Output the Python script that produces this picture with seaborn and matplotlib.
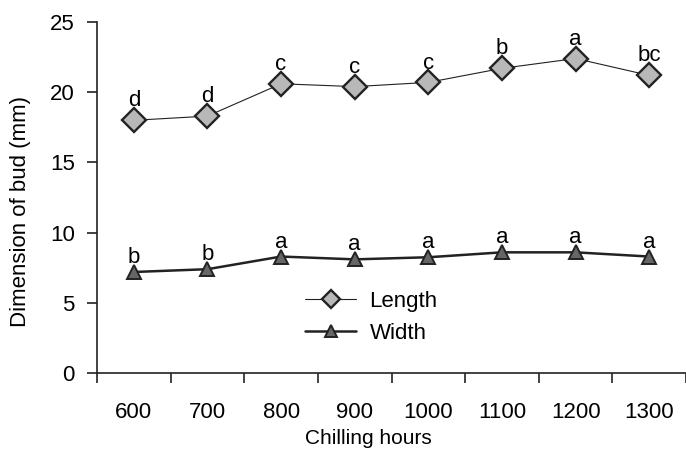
import numpy as np
import pandas as pd
import matplotlib
matplotlib.use('Agg')
import matplotlib.pyplot as plt
import seaborn as sns

hours = ['600', '700', '800', '900', '1000', '1100', '1200', '1300']
length = [18.0, 18.3, 20.6, 20.4, 20.7, 21.7, 22.4, 21.2]
width = [7.2, 7.4, 8.3, 8.1, 8.25, 8.6, 8.6, 8.3]
length_sig = ['d', 'd', 'c', 'c', 'c', 'b', 'a', 'bc']
width_sig = ['b', 'b', 'a', 'a', 'a', 'a', 'a', 'a']

sns.set_style('ticks')
plt.rcParams['font.family'] = ['Liberation Sans', 'DejaVu Sans']
plt.rcParams['text.color'] = 'black'
plt.rcParams['axes.labelcolor'] = 'black'
plt.rcParams['xtick.color'] = 'black'
plt.rcParams['ytick.color'] = 'black'

df = pd.DataFrame({'hours': hours, 'Length': length, 'Width': width})

fig = plt.figure(figsize=(6.86, 4.49), dpi=100)
ax = fig.add_axes([0.1414, 0.169, 0.8586, 0.782])

sns.lineplot(data=df, x='hours', y='Length', ax=ax, color='#222222', linewidth=0.8,
             marker='D', markersize=12.5, markerfacecolor='#b8b8b8',
             markeredgecolor='#222222', markeredgewidth=1.7, label='Length')
sns.lineplot(data=df, x='hours', y='Width', ax=ax, color='#222222', linewidth=1.8,
             marker='^', markersize=9.5, markerfacecolor='#666666',
             markeredgecolor='#222222', markeredgewidth=1.4, label='Width')

for i, (v, s) in enumerate(zip(length, length_sig)):
    ax.annotate(s, (i, v), xytext=(0, 10), textcoords='offset points',
                ha='center', va='baseline', fontsize=16)
for i, (v, s) in enumerate(zip(width, width_sig)):
    ax.annotate(s, (i, v), xytext=(0, 6.5), textcoords='offset points',
                ha='center', va='baseline', fontsize=16)

ax.set_xlim(-0.5, 7.5)
ax.set_ylim(0, 25)
ax.set_yticks([0, 5, 10, 15, 20, 25])
ax.set_xticks(np.arange(-0.5, 8, 1), minor=True)
ax.tick_params(axis='x', which='major', length=0, labelsize=16, pad=21)
ax.tick_params(axis='x', which='minor', length=7, width=1.2, color='#222222')
ax.tick_params(axis='y', length=7, width=1.2, color='#222222', labelsize=16, pad=9)
for sp in ['left', 'bottom']:
    ax.spines[sp].set_linewidth(1.2)
    ax.spines[sp].set_color('#222222')
sns.despine(ax=ax)

ax.set_xlabel('Chilling hours', fontsize=15)
ax.xaxis.set_label_coords(0.46, -0.16)
ax.set_ylabel('Dimension of bud (mm)', fontsize=16)
ax.yaxis.set_label_coords(-0.112, 0.46)

leg = ax.legend(loc='center left', bbox_to_anchor=(0.4446, 0.293), bbox_transform=fig.transFigure,
                frameon=False, fontsize=16, handlelength=2.3, handletextpad=0.6,
                labelspacing=0.5, borderpad=0, borderaxespad=0)
for h, ms in zip(leg.legend_handles, [9, 8.5]):
    h.set_markersize(ms)

fig.savefig('out.png', dpi=100)
